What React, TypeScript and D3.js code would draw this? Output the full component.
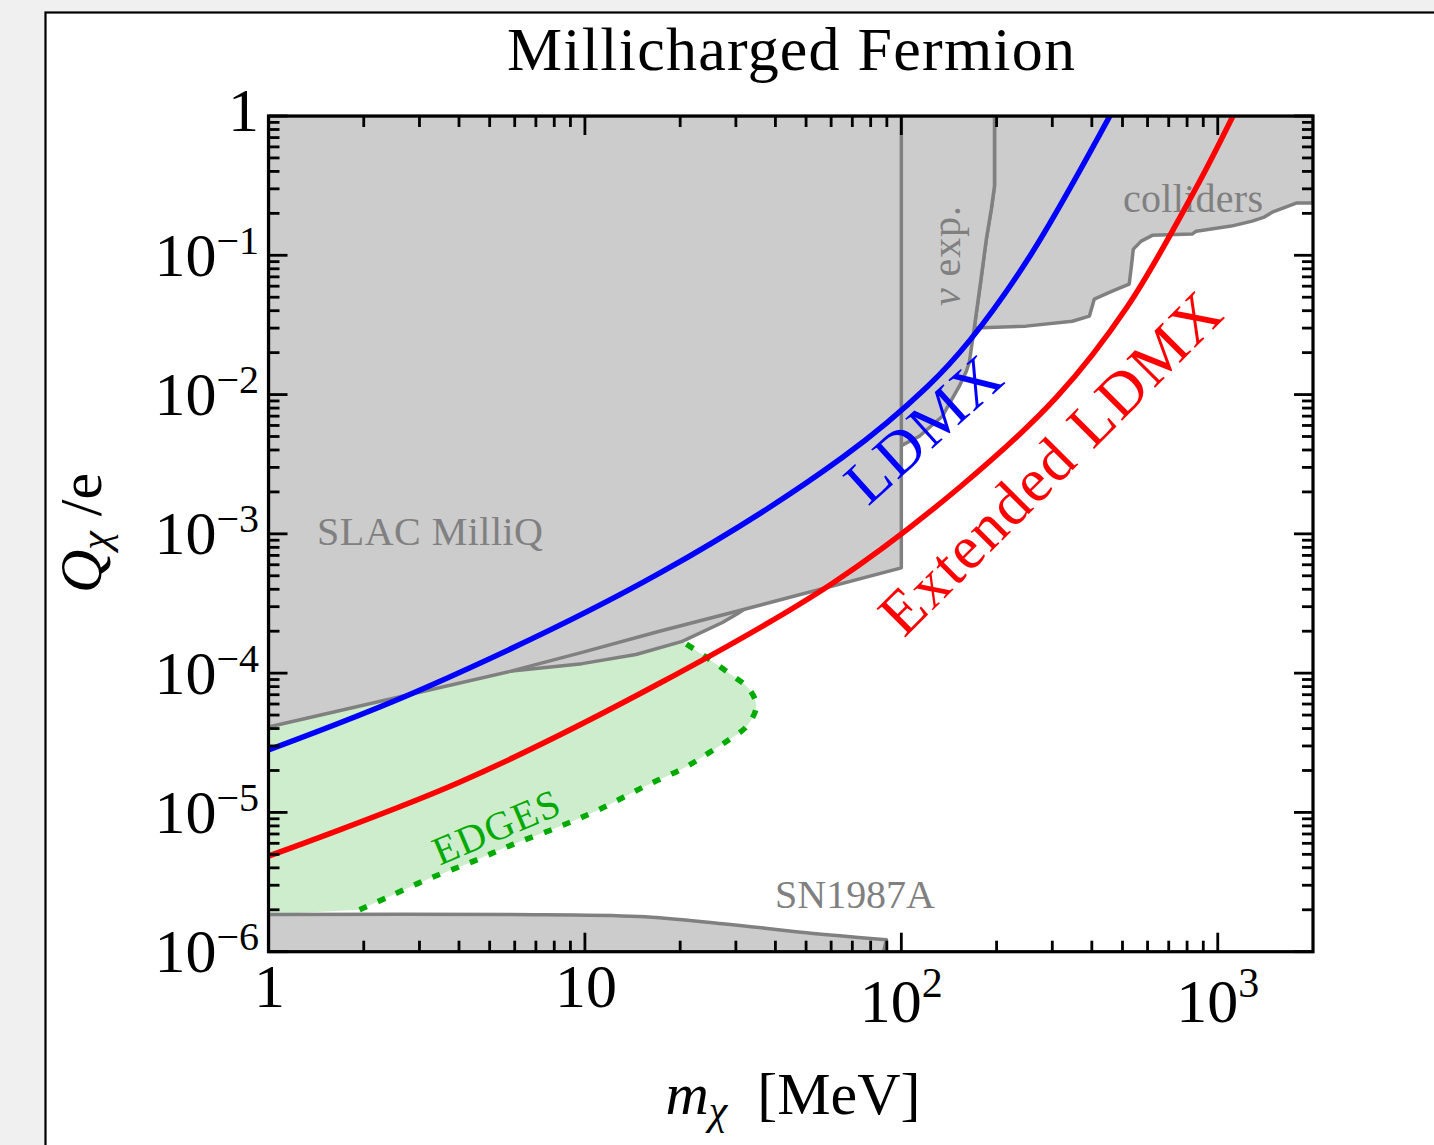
import React from 'react';
import * as d3 from 'd3';

type Pt = [number, number];

// all curves are [m_chi in MeV, Q/e]
const slacMilliQ: Pt[] = [
  [1, 1], [1, 4.1e-5], [5.8, 1.03e-4], [9.8, 1.41e-4], [17.2, 2.0e-4], [30, 2.77e-4], [100, 5.7e-4], [100, 1],
];
const nuExpEdge: Pt[] = [
  [197, 1], [197, 0.314], [192.5, 0.215], [185.6, 0.1306], [177.7, 0.0621], [170, 0.03],
  [164, 0.01707], [160.5, 0.01472], [152.5, 0.01148], [134.8, 0.00699], [114, 0.00502], [100, 0.0043],
];
const nuExpLower: Pt[] = [
  [31.9, 2.87e-4], [30.8, 2.73e-4], [27.2, 2.31e-4], [20.3, 1.69e-4], [14.5, 1.36e-4], [9.8, 1.17e-4], [5.77, 1.03e-4],
];
const nuExpHidden: Pt[] = [[20, 1]];
const collidersEdge: Pt[] = [
  [2000, 1], [2000, 0.237], [1770, 0.237], [1487, 0.204], [1403, 0.188], [1285, 0.176], [1103, 0.162],
  [855, 0.149], [830, 0.142], [621, 0.139], [573, 0.1264], [541, 0.1107], [533, 0.0822], [525, 0.0621],
  [464, 0.0553], [407, 0.0484], [393, 0.0366], [347, 0.0336], [248, 0.031], [170, 0.03],
];
const sn1987aTop: Pt[] = [
  [1, 1.85e-6], [5.86, 1.85e-6], [14.8, 1.79e-6], [27.2, 1.59e-6], [50.1, 1.37e-6], [89.7, 1.22e-6],
];
const sn1987aBottom: Pt[] = [[87, 9e-7], [1, 9e-7]];
const edgesBoundary: Pt[] = [
  [1.94, 2.0e-6], [2.36, 2.44e-6], [3.16, 3.29e-6], [4.41, 4.43e-6], [5.9, 5.87e-6], [8.31, 7.91e-6],
  [11.1, 1.05e-5], [15.2, 1.51e-5], [20.9, 2.13e-5], [24.7, 2.69e-5], [28.6, 3.34e-5], [32.4, 4.14e-5],
  [34.8, 5.76e-5], [33.1, 7.63e-5], [28, 1.03e-4], [23.5, 1.36e-4], [20.3, 1.69e-4],
];
const edgesFillStart: Pt[] = [[1, 1.85e-6]];
const edgesFillHidden: Pt[] = [[5.37, 1.25e-4], [1, 6.5e-5]];
const ldmx: Pt[] = [
  [1, 2.81e-5], [3.17, 7.95e-5], [17.27, 5.24e-4], [65.4, 3.56e-3], [120.5, 1.133e-2], [164.8, 2.46e-2],
  [255, 0.0988], [456, 1],
];
const extendedLdmx: Pt[] = [
  [1, 4.86e-6], [4.03, 1.653e-5], [17.27, 8.49e-5], [60.8, 4.44e-4], [153.2, 2.17e-3], [310, 9.61e-3],
  [517, 4.25e-2], [847, 0.294], [1117, 1],
];

const xTickValues = [1, 10, 100, 1000];
const xTickLabels: [string, string][] = [['1', ''], ['10', ''], ['10', '2'], ['10', '3']];
const yTickValues = [1, 1e-1, 1e-2, 1e-3, 1e-4, 1e-5, 1e-6];
const yTickLabels: [string, string][] = [
  ['1', ''], ['10', '−1'], ['10', '−2'], ['10', '−3'], ['10', '−4'], ['10', '−5'], ['10', '−6'],
];

const W = 1434;
const H = 1145;
const plot = { left: 268.5, right: 1313, top: 116, bottom: 951.7 };
const font = "'Liberation Serif', 'Times New Roman', serif";
const grayFill = '#cccccc';
const grayLine = '#808080';

export default function App() {
  const x = d3.scaleLog().domain([1, 2000]).range([plot.left, plot.right]);
  const y = d3.scaleLog().domain([1e-6, 1]).range([plot.bottom, plot.top]);

  const lin = d3.line<Pt>().x((d) => x(d[0])).y((d) => y(d[1]));
  const smooth = d3
    .line<Pt>()
    .x((d) => x(d[0]))
    .y((d) => y(d[1]))
    .curve(d3.curveCatmullRom.alpha(0.5));
  const cont = (path: string | null) => (path || '').replace(/^M/, 'L');

  const slacPath = lin(slacMilliQ) + 'Z';
  const nuPath = lin([...nuExpEdge, ...nuExpLower, ...nuExpHidden]) + 'Z';
  const colliderPath = lin([...collidersEdge, ...nuExpEdge.slice(0, 6).reverse()]) + 'Z';
  const snPath = smooth(sn1987aTop) + cont(lin(sn1987aBottom)) + 'Z';
  const edgesFillPath = lin(edgesFillStart) + cont(smooth(edgesBoundary)) + cont(lin(edgesFillHidden)) + 'Z';

  const isMajor = (v: number) => Math.abs(Math.log10(v) - Math.round(Math.log10(v))) < 1e-9;
  const xMinor = x.ticks().filter((v) => v < 2000);
  const yMinor = y.ticks();
  const major = 19;
  const minor = 11;
  const regionStroke = 3.5;

  return (
    <svg width={W} height={H} style={{ position: 'absolute', left: 0, top: 0 }} fontFamily={font}>
      <rect x={0} y={0} width={W} height={H} fill="#f0f0f0" />
      <rect x={45.5} y={12.5} width={W + 100} height={H + 100} fill="#ffffff" stroke="#000" strokeWidth={2.2} />
      <defs>
        <clipPath id="plotClip">
          <rect x={plot.left} y={plot.top} width={plot.right - plot.left} height={plot.bottom - plot.top} />
        </clipPath>
      </defs>

      <text x={791} y={70} fontSize={62} textAnchor="middle" textLength={568}>
        Millicharged Fermion
      </text>

      <g clipPath="url(#plotClip)">
        <path d={edgesFillPath} fill="#cdedcd" stroke="none" />
        <path d={smooth(edgesBoundary) || ''} fill="none" stroke="#00aa00" strokeWidth={5.5} strokeDasharray="8 12" />
        <path d={colliderPath} fill={grayFill} stroke={grayLine} strokeWidth={regionStroke} strokeLinejoin="round" />
        <path d={nuPath} fill={grayFill} stroke={grayLine} strokeWidth={regionStroke} strokeLinejoin="round" />
        <path d={slacPath} fill={grayFill} stroke={grayLine} strokeWidth={regionStroke} strokeLinejoin="round" />
        <path d={snPath} fill={grayFill} stroke={grayLine} strokeWidth={regionStroke} strokeLinejoin="round" />

        <text x={317} y={545} fontSize={40} fill={grayLine} textLength={226}>SLAC MilliQ</text>
        <text x={1123} y={212} fontSize={40} fill={grayLine} textLength={140}>colliders</text>
        <text x={775} y={908} fontSize={40} fill={grayLine} textLength={160}>SN1987A</text>
        <text transform="translate(960,256) rotate(-90)" fontSize={40} fill={grayLine} textAnchor="middle" textLength={100}>
          <tspan fontStyle="italic">ν</tspan> exp.
        </text>
        <text transform="translate(496,827) rotate(-23)" fontSize={40} fill="#00aa00" textAnchor="middle" dy="0.34em" textLength={134}>
          EDGES
        </text>

        <path d={smooth(ldmx) || ''} fill="none" stroke="#0000ff" strokeWidth={5.5} />
        <path d={smooth(extendedLdmx) || ''} fill="none" stroke="#ff0000" strokeWidth={5.5} />

        <text transform="translate(923,429) rotate(-42)" fontSize={62} fill="#0000ff" textAnchor="middle" dy="0.34em" textLength={186}>
          LDMX
        </text>
        <text transform="translate(1050,463) rotate(-45)" fontSize={62} fill="#ff0000" textAnchor="middle" dy="0.34em" textLength={455}>
          Extended LDMX
        </text>
      </g>

      <g stroke="#000" strokeWidth={2.8}>
        {xMinor.map((v) => {
          const len = isMajor(v) ? major : minor;
          return (
            <g key={'x' + v}>
              <line x1={x(v)} x2={x(v)} y1={plot.bottom} y2={plot.bottom - len} />
              <line x1={x(v)} x2={x(v)} y1={plot.top} y2={plot.top + len} />
            </g>
          );
        })}
        {yMinor.map((v) => {
          const len = isMajor(v) ? major : minor;
          return (
            <g key={'y' + v}>
              <line x1={plot.left} x2={plot.left + len} y1={y(v)} y2={y(v)} />
              <line x1={plot.right} x2={plot.right - len} y1={y(v)} y2={y(v)} />
            </g>
          );
        })}
      </g>
      <rect
        x={plot.left}
        y={plot.top}
        width={plot.right - plot.left}
        height={plot.bottom - plot.top}
        fill="none"
        stroke="#000"
        strokeWidth={3.2}
      />

      {xTickValues.map((v, i) => {
        const [base, exp] = xTickLabels[i];
        return (
          <text key={'xl' + v} x={x(v) + (exp ? 0 : 1)} y={exp ? 1022 : 1007} fontSize={62} textAnchor="middle">
            {base}
            {exp && (
              <tspan fontSize={42} dy={-25}>
                {exp}
              </tspan>
            )}
          </text>
        );
      })}
      {yTickValues.map((v, i) => {
        const [base, exp] = yTickLabels[i];
        return (
          <text key={'yl' + v} x={259} y={y(v) + (exp ? 20.5 : 15)} fontSize={62} textAnchor="end">
            {base}
            {exp && (
              <tspan fontSize={40} dy={-22}>
                {exp}
              </tspan>
            )}
          </text>
        );
      })}

      <text x={793} y={1114} fontSize={60} textAnchor="middle">
        <tspan fontStyle="italic">m</tspan>
        <tspan fontStyle="italic" fontSize={42} dy={10}>χ</tspan>
        <tspan dy={-10}>{'\u00a0\u00a0[MeV]'}</tspan>
      </text>
      <text transform="translate(101,533) rotate(-90)" fontSize={60} textAnchor="middle">
        <tspan fontStyle="italic">Q</tspan>
        <tspan fontStyle="italic" fontSize={42} dy={8}>χ</tspan>
        <tspan dy={-8}>{'\u00a0/e'}</tspan>
      </text>
    </svg>
  );
}
